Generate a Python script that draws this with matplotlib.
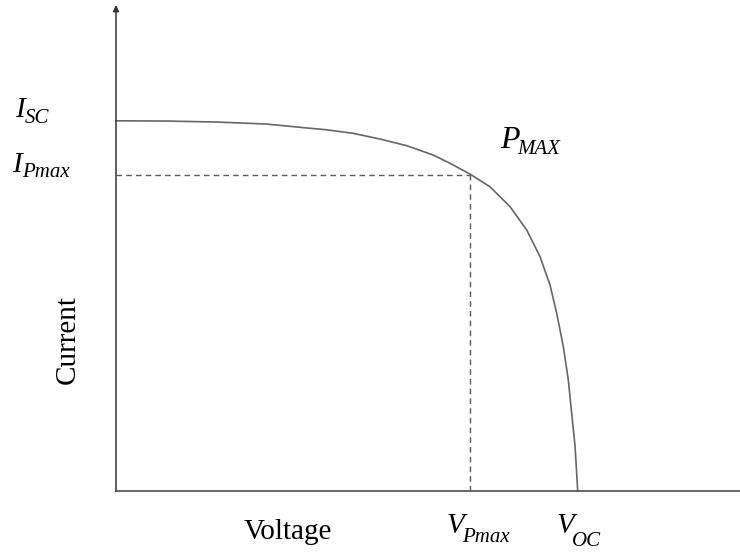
import numpy as np
import matplotlib.pyplot as plt

plt.rcParams['font.family'] = 'Liberation Serif'

# I-V curve (arbitrary units: Voc = 0.6, Isc = 3.0)
voltage = [0.0, 0.0651, 0.1302, 0.1952, 0.2395, 0.2742, 0.3089, 0.3436,
           0.3784, 0.4130, 0.4347, 0.4607, 0.4867, 0.5128, 0.5345, 0.5518,
           0.5648, 0.5735, 0.5821, 0.5886, 0.5930, 0.5974, 0.6000, 0.6008]
current = [3.002, 3.000, 2.992, 2.976, 2.949, 2.929, 2.900, 2.854,
           2.800, 2.724, 2.657, 2.570, 2.467, 2.305, 2.116, 1.900,
           1.670, 1.441, 1.170, 0.900, 0.630, 0.359, 0.089, 0.0]
v_pmax = 0.461
i_pmax = 2.562
x_max = 0.812
y_max = 3.941

line_col = '#5a5a5a'

fig = plt.figure(figsize=(7.4, 5.54), dpi=100)
ax = fig.add_axes([116/740, 63/554, 624/740, 486/554])
ax.set_xlim(0, x_max)
ax.set_ylim(0, y_max)
for s in ax.spines.values():
    s.set_visible(False)
ax.set_xticks([])
ax.set_yticks([])

ax.plot(voltage, current, color='#666666', lw=1.2, clip_on=False,
        solid_joinstyle='round')
ax.plot([0, v_pmax], [i_pmax, i_pmax], color=line_col, lw=1, dashes=(4, 3))
ax.plot([v_pmax, v_pmax], [0, i_pmax], color=line_col, lw=1, dashes=(4, 3))

# axes
ax.plot([0, x_max], [0, 0], color=line_col, lw=1.3, clip_on=False)
ax.annotate('', xy=(0, y_max), xytext=(0, 0), annotation_clip=False,
            arrowprops=dict(arrowstyle='-|>', color='#333333', lw=1.1,
                            mutation_scale=9, shrinkA=0, shrinkB=0))

def lab(px, py, s, **kw):
    fig.text(px/740, 1 - py/554, s, **kw)

def sym(px, py, main, sub, sx, sy, size=21, subsize=15):
    lab(px, py, main, fontsize=size, style='italic', va='baseline')
    lab(sx, sy, sub, fontsize=subsize, style='italic', va='baseline')

sym(15, 117, 'I', 'SC', 25, 123)
sym(12, 172, 'I', 'Pmax', 22, 177)
sym(500, 148, 'P', 'MAX', 517, 154, size=23)
sym(446, 533, 'V', 'Pmax', 462, 542)
sym(556, 533, 'V', 'OC', 572, 546)
lab(288, 539, 'Voltage', fontsize=21, va='baseline', ha='center')
lab(68, 340, 'Current', fontsize=21, va='center', ha='center', rotation=90)

fig.savefig('out.png', dpi=100)
